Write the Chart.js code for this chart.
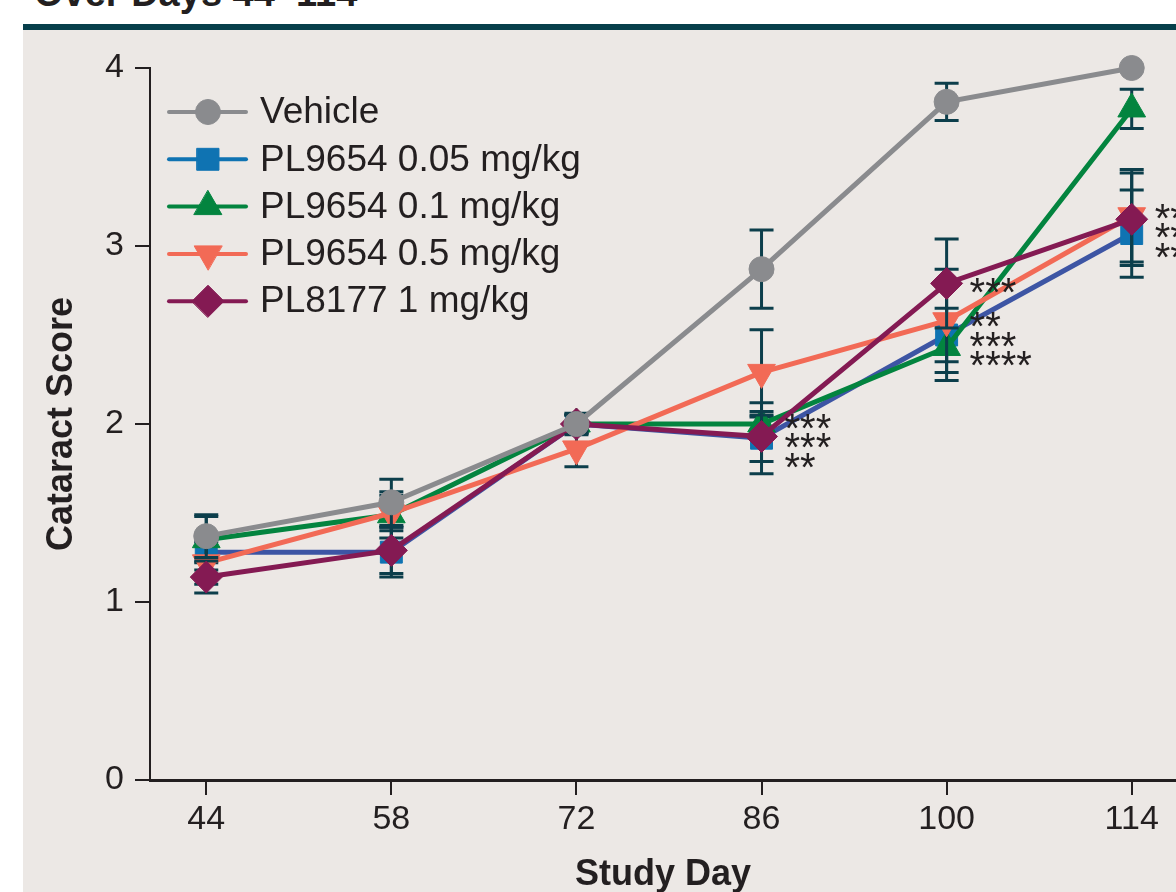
<!DOCTYPE html>
<html>
<head>
<meta charset="utf-8">
<title>Cataract Score by Study Day</title>
<script src="https://cdn.jsdelivr.net/npm/chart.js@4.4.1/dist/chart.umd.min.js"></script>
<style>
  html, body { margin: 0; padding: 0; background: #fff; overflow: hidden; }
  #page { position: relative; width: 1176px; height: 892px; overflow: hidden; }
  #heading {
    position: absolute; left: 34px; top: -28px; line-height: 40px;
    font: bold 38px 'Liberation Sans', Arial, Helvetica, sans-serif;
    color: #231f20; white-space: nowrap;
  }
  #panel {
    position: absolute; left: 23px; top: 24px; right: 0; bottom: 0;
    background: #ece8e5; border-top: 6px solid #073f4b;
  }
  #chart { position: absolute; left: 0; top: 0; }
</style>
</head>
<body>
<div id="page">
  <div id="heading">Over Days 44–114</div>
  <div id="panel"></div>
  <canvas id="chart" width="1176" height="892"></canvas>
</div>
<script>
/* ── Data ──────────────────────────────────── */
const studyDays = [44, 58, 72, 86, 100, 114];
const xTicks    = [44, 58, 72, 86, 100, 114];

const vehicle        = [1.37, 1.56, 2.00, 2.87, 3.81, 4.00];
const vehicleSem     = [0.12, 0.13, 0.06, 0.22, 0.105, 0];
const pl9654Low      = [1.28, 1.28, 2.00, 1.92, 2.50, 3.07];
const pl9654LowSem   = [0.10, 0.14, 0.05, 0.20, 0.15, 0.245];
const pl9654Mid      = [1.35, 1.49, 2.00, 2.00, 2.43, 3.77];
const pl9654MidSem   = [0.13, 0.13, 0.05, 0.04, 0.185, 0.11];
const pl9654High     = [1.22, 1.50, 1.86, 2.29, 2.58, 3.17];
const pl9654HighSem  = [0.12, 0.10, 0.10, 0.24, 0.29, 0.26];
const pl8177         = [1.14, 1.29, 2.00, 1.93, 2.79, 3.15];
const pl8177Sem      = [0.09, 0.13, 0.05, 0.14, 0.25, 0.26];

// significance marks vs vehicle, stacked to the right of a day
const sigDays = [86, 100, 100, 114];
const sigTop  = [2.03, 2.79, 2.60, 3.21];
const sigRows = [['***', '***', '**'], ['***'], ['**', '***', '****'], ['***', '***', '***']];

const INK  = '#231f20';
const FONT = "'Liberation Sans', Arial, Helvetica, sans-serif";
Chart.defaults.font.family = FONT;
Chart.defaults.color = INK;

function series(label, values, sem, color, lineColor, style, radius, rotation, order) {
  return {
    label, sem, order,
    data: studyDays.map((d, i) => ({ x: d, y: values[i] })),
    borderColor: lineColor,
    borderWidth: 5,
    pointBackgroundColor: color,
    pointBorderColor: color,
    pointBorderWidth: 1,
    pointStyle: style,
    pointRadius: radius,
    pointHoverRadius: radius,
    pointRotation: rotation,
    tension: 0,
    clip: false,
  };
}

// ── Error bars (drawn just under each series) ──
const errorBars = {
  id: 'errorBars',
  beforeDatasetDraw(chart, args) {
    const ds = chart.data.datasets[args.index];
    const { ctx, scales: { x, y } } = chart;
    ctx.save();
    ctx.strokeStyle = '#0c3e4b';
    ctx.lineWidth = 3;
    ds.data.forEach((p, i) => {
      const e = ds.sem[i];
      if (!e) return;
      const px  = x.getPixelForValue(p.x);
      const top = y.getPixelForValue(p.y + e);
      const bot = y.getPixelForValue(p.y - e);
      ctx.beginPath();
      ctx.moveTo(px, top);      ctx.lineTo(px, bot);
      ctx.moveTo(px - 12, top); ctx.lineTo(px + 12, top);
      ctx.moveTo(px - 12, bot); ctx.lineTo(px + 12, bot);
      ctx.stroke();
    });
    ctx.restore();
  },
};

// ── Asterisks ──
const sigMarks = {
  id: 'sigMarks',
  afterDatasetsDraw(chart) {
    const { ctx, scales: { x, y } } = chart;
    ctx.save();
    ctx.fillStyle = INK;
    ctx.font = '40px ' + FONT;
    ctx.textBaseline = 'alphabetic';
    sigDays.forEach((d, g) => {
      const px = x.getPixelForValue(d) + 23;
      const py = y.getPixelForValue(sigTop[g]);
      sigRows[g].forEach((t, r) => ctx.fillText(t, px, py + r * 19.5 + 23));
    });
    ctx.restore();
  },
};

// ── Legend: line + marker + label ──
const markerLegend = {
  id: 'markerLegend',
  afterDraw(chart) {
    const ctx = chart.ctx;
    chart.data.datasets.forEach((ds, i) => {
      const y = 112 + i * 47.3;
      const c = ds.pointBackgroundColor;
      ctx.save();
      ctx.strokeStyle = c;
      ctx.lineWidth = 4;
      ctx.lineCap = 'round';
      ctx.beginPath();
      ctx.moveTo(169, y);
      ctx.lineTo(246, y);
      ctx.stroke();
      ctx.fillStyle = c;
      ctx.lineWidth = 1;
      Chart.helpers.drawPoint(ctx, {
        pointStyle: ds.pointStyle, rotation: ds.pointRotation,
        radius: ds.pointRadius, borderWidth: 1,
      }, 208, y);
      ctx.fillStyle = INK;
      ctx.font = '37px ' + FONT;
      ctx.textBaseline = 'middle';
      ctx.fillText(ds.label, 260, y + 1);
      ctx.restore();
    });
  },
};

new Chart(document.getElementById('chart'), {
  type: 'line',
  data: {
    datasets: [
      series('Vehicle',           vehicle,    vehicleSem,    '#8a8b8e', '#8a8b8e', 'circle',   12.5, 0,   0),
      series('PL9654 0.05 mg/kg', pl9654Low,  pl9654LowSem,  '#0f73b2', '#3d55a4', 'rect',     15.5, 0,   4),
      series('PL9654 0.1 mg/kg',  pl9654Mid,  pl9654MidSem,  '#03843f', '#03843f', 'triangle', 16,   0,   3),
      series('PL9654 0.5 mg/kg',  pl9654High, pl9654HighSem, '#f26a56', '#f26a56', 'triangle', 16,   180, 2),
      series('PL8177 1 mg/kg',    pl8177,     pl8177Sem,     '#841a53', '#841a53', 'rectRot',  16,   0,   1),
    ],
  },
  options: {
    responsive: false,
    animation: false,
    layout: { autoPadding: false, padding: { top: 68, left: 0, right: 0, bottom: 0 } },
    plugins: { legend: { display: false }, tooltip: { enabled: false } },
    scales: {
      x: {
        type: 'linear',
        min: 39.745,
        max: 117.35,
        afterBuildTicks: s => { s.ticks = xTicks.map(v => ({ value: v })); },
        afterFit: s => { s.height = 112; s.paddingLeft = 0; s.paddingRight = 0; },
        grid: { drawOnChartArea: false, drawTicks: true, tickLength: 15, color: INK, lineWidth: 2 },
        border: { display: true, color: INK, width: 3 },
        ticks: { color: INK, font: { size: 34 }, padding: 4, autoSkip: false, maxRotation: 0 },
        title: {
          display: true, text: 'Study Day', color: INK,
          font: { size: 36, weight: 'bold', lineHeight: 0.9 },
          padding: { top: 0, bottom: 1 },
        },
      },
      y: {
        min: 0,
        max: 4,
        afterFit: s => { s.width = 150; s.paddingTop = 0; s.paddingBottom = 0; },
        grid: { drawOnChartArea: false, drawTicks: true, tickLength: 15, color: INK, lineWidth: 2 },
        border: { display: true, color: INK, width: 2 },
        ticks: { stepSize: 1, color: INK, font: { size: 34 }, padding: 11 },
        title: {
          display: true, text: 'Cataract Score', color: INK,
          font: { size: 36, weight: 'bold', lineHeight: 0.9 },
          padding: { top: 46, bottom: 0 },
        },
      },
    },
  },
  plugins: [errorBars, sigMarks, markerLegend],
});
</script>
</body>
</html>
